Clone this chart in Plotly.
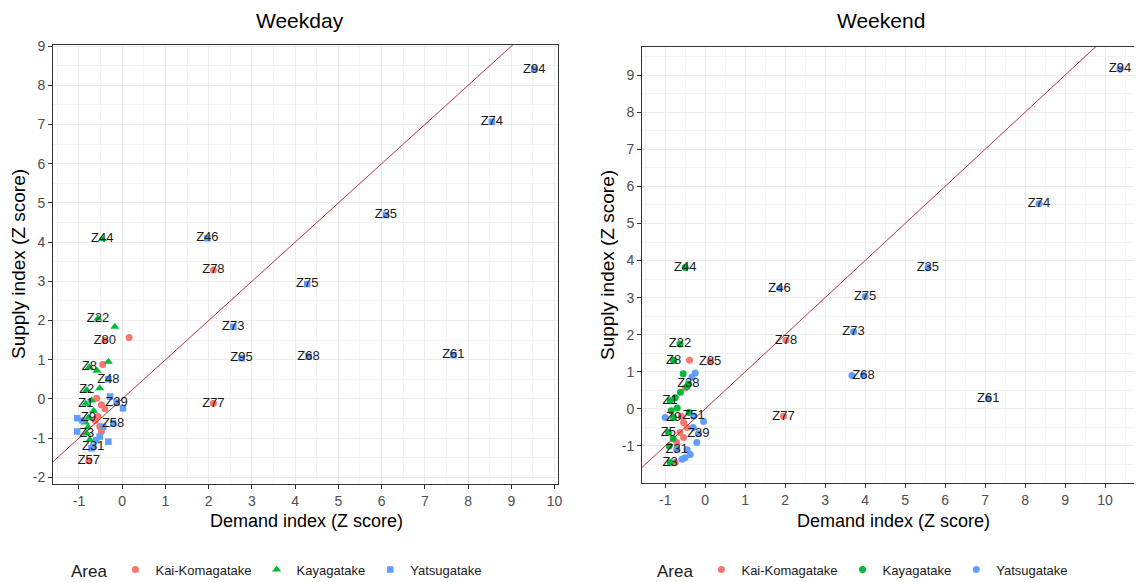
import plotly.graph_objects as go

FONT = "Liberation Sans, Arial, sans-serif"
PAGE_W, PAGE_H = 1142, 582
BODY_MARGIN = 8  # default browser body margin around the plot div
W, H = PAGE_W - BODY_MARGIN, PAGE_H - BODY_MARGIN

# ---------------- data ----------------
areas = ["Kai-Komagatake", "Kayagatake", "Yatsugatake"]
area_colors = ["#F8766D", "#00BA38", "#619CFF"]
weekday_symbols = ["circle", "triangle-up", "square"]
weekend_symbols = ["circle", "circle", "circle"]

# Weekday
wd_kai_x = [2.11, 2.11, -0.40, -0.77, 0.16, -0.45, -0.59, -0.48, -0.56, -0.48, -0.62, -0.40, -0.52]
wd_kai_y = [3.29, -0.11, 1.49, -1.58, 1.57, 0.88, 0.02, -0.15, -0.45, -0.83, -0.55, -0.25, -0.70]
wd_kai_lab = ["Z78", "Z77", "Z80", "Z57", "", "", "", "", "", "", "", "", ""]

wd_kaya_x = [-0.46, -0.56, -0.76, -0.82, -0.84, -0.78, -0.82, -0.17, -0.32, -0.58, -0.52, -0.71, -0.79, -0.75, -0.66, -0.85]
wd_kaya_y = [4.08, 2.05, 0.81, 0.23, -0.12, -0.48, -0.88, 1.84, 0.95, 0.72, 0.27, -0.04, -0.72, -1.04, -0.30, -0.60]
wd_kaya_lab = ["Z44", "Z22", "Z8", "Z2", "Z1", "Z9", "Z3", "", "", "", "", "", "", "", "", ""]

wd_yatsu_x = [9.53, 8.55, 6.10, 1.97, 4.28, 2.57, 2.76, 4.31, 7.66, -0.32, -0.13, -0.21, -0.67,
              -0.28, 0.02, -1.04, -1.04, -0.52, -0.32, -0.44, -0.71, -0.92, -0.60]
wd_yatsu_y = [8.41, 7.07, 4.69, 4.10, 2.93, 1.84, 1.04, 1.08, 1.12, 0.50, -0.09, -0.62, -1.22,
              0.06, -0.24, -0.49, -0.83, -0.96, -1.09, -0.71, -1.26, -0.55, -1.05]
wd_yatsu_lab = ["Z94", "Z74", "Z35", "Z46", "Z75", "Z73", "Z95", "Z68", "Z61", "Z48", "Z39", "Z58", "Z31",
                "", "", "", "", "", "", "", "", "", ""]

# Weekend
we_kai_x = [2.02, 1.96, 0.125, -0.39, -0.50, -0.54, -0.63, -0.54, -0.71, -0.60, -0.75, -0.45]
we_kai_y = [1.85, -0.20, 1.28, 1.31, 0.56, -0.37, -0.64, -0.77, -0.91, -0.20, -1.45, -0.50]
we_kai_lab = ["Z78", "Z77", "Z85", "", "", "", "", "", "", "", "", ""]

we_kaya_x = [-0.50, -0.63, -0.79, -0.42, -0.875, -0.79, -0.92, -0.875,
             -0.55, -0.45, -0.62, -0.75, -0.85, -0.80, -0.90, -0.70, -0.40]
we_kaya_y = [3.81, 1.75, 1.31, 0.67, 0.22, -0.23, -0.64, -1.45,
             0.95, 0.60, 0.45, 0.30, -0.05, -0.80, -1.00, 0.02, -0.10]
we_kaya_lab = ["Z44", "Z22", "Z8", "Z38", "Z1", "Z9", "Z5", "Z3",
               "", "", "", "", "", "", "", "", ""]

we_yatsu_x = [10.375, 8.35, 5.57, 1.86, 4.00, 3.71, 3.96, 7.08, -0.29, -0.17, -0.71,
              3.67, -0.33, -0.25, -0.04, -1.00, -0.21, -0.375, -0.50, -0.58, -0.45, -0.30]
we_yatsu_y = [9.16, 5.53, 3.81, 3.25, 3.03, 2.08, 0.90, 0.27, -0.19, -0.67, -1.09,
              0.90, 0.86, 0.97, -0.34, -0.23, -0.91, -1.23, -1.32, -1.36, -1.10, -0.50]
we_yatsu_lab = ["Z94", "Z74", "Z35", "Z46", "Z75", "Z73", "Z68", "Z61", "Z51", "Z39", "Z31",
                "", "", "", "", "", "", "", "", "", "", ""]

# reference line y = slope * x + intercept
ref_slope = 1.0
ref_intercept = 0.0

x_ticks = [-1, 0, 1, 2, 3, 4, 5, 6, 7, 8, 9, 10]
wd_y_ticks = [-2, -1, 0, 1, 2, 3, 4, 5, 6, 7, 8, 9]
we_y_ticks = [-1, 0, 1, 2, 3, 4, 5, 6, 7, 8, 9]

# ---------------- layout geometry ----------------
wd_xrange = [-1.60, 10.08]
wd_yrange = [-2.17, 9.03]
we_xrange = [-1.58, 10.925]
we_yrange = [-2.0, 9.76]


def px(v):
    """page x pixel -> paper fraction"""
    return (v - BODY_MARGIN) / W


def py(v):
    """page y pixel -> paper fraction"""
    return 1 - (v - BODY_MARGIN) / H


fig = go.Figure()

panels = [
    dict(xa="x", ya="y", legend="legend", symbols=weekday_symbols, xr=wd_xrange,
         groups=[(wd_kai_x, wd_kai_y, wd_kai_lab), (wd_kaya_x, wd_kaya_y, wd_kaya_lab),
                 (wd_yatsu_x, wd_yatsu_y, wd_yatsu_lab)]),
    dict(xa="x2", ya="y2", legend="legend2", symbols=weekend_symbols, xr=we_xrange,
         groups=[(we_kai_x, we_kai_y, we_kai_lab), (we_kaya_x, we_kaya_y, we_kaya_lab),
                 (we_yatsu_x, we_yatsu_y, we_yatsu_lab)]),
]

sym_size = {"circle": 7, "triangle-up": 8, "square": 6.5}

for p in panels:
    # points
    for name, color, sym, (xs, ys, labs) in zip(areas, area_colors, p["symbols"], p["groups"]):
        fig.add_trace(go.Scatter(
            x=xs, y=ys, mode="markers", name=name, xaxis=p["xa"], yaxis=p["ya"],
            legend=p["legend"],
            marker=dict(color=color, symbol=sym, size=sym_size[sym], line=dict(width=0)),
            hoverinfo="skip"))
    # reference line
    lx = list(p["xr"])
    ly = [ref_slope * v + ref_intercept for v in lx]
    fig.add_trace(go.Scatter(x=lx, y=ly, mode="lines", xaxis=p["xa"], yaxis=p["ya"],
                             line=dict(color="#B8343A", width=1), showlegend=False,
                             hoverinfo="skip"))
    # labels
    tx, ty, tt = [], [], []
    for xs, ys, labs in p["groups"]:
        for a, b, c in zip(xs, ys, labs):
            if c:
                tx.append(a)
                ty.append(b)
                tt.append(c)
    fig.add_trace(go.Scatter(x=tx, y=ty, text=tt, mode="text", xaxis=p["xa"], yaxis=p["ya"],
                             textposition="middle center",
                             textfont=dict(family=FONT, size=13, color="#1a1a1a"),
                             showlegend=False, hoverinfo="skip", cliponaxis=False))


def axis(rng, ticks, domain, anchor, mirror=True):
    return dict(
        range=rng, domain=domain, anchor=anchor, automargin=False,
        tickmode="array", tickvals=ticks, ticktext=[str(t) for t in ticks],
        ticks="outside", ticklen=4, tickwidth=1, tickcolor="#333333",
        tickfont=dict(family=FONT, size=14, color="#4D4D4D"),
        showgrid=True, gridcolor="#EBEBEB", gridwidth=1,
        minor=dict(tickmode="linear", tick0=0.5, dtick=1, showgrid=True,
                   gridcolor="#F3F3F3", gridwidth=0.7, ticks=""),
        showline=True, linecolor="#333333", linewidth=1, mirror=mirror,
        zeroline=False, fixedrange=True)


legend_common = dict(
    orientation="h", xanchor="left", yanchor="middle",
    bgcolor="rgba(0,0,0,0)",
    font=dict(family=FONT, size=13, color="#1a1a1a"),
    title=dict(text="Area", side="left", font=dict(family=FONT, size=17, color="#1a1a1a")),
    itemclick=False, itemdoubleclick=False,
)

fig.update_layout(
    template="none",
    width=W, height=H,
    margin=dict(l=0, r=0, t=0, b=0, pad=0, autoexpand=False),
    paper_bgcolor="white", plot_bgcolor="white",
    font=dict(family=FONT),
    xaxis=axis(wd_xrange, x_ticks, [px(53), px(558)], "y"),
    yaxis=axis(wd_yrange, wd_y_ticks, [py(484), py(45)], "x"),
    xaxis2=axis(we_xrange, x_ticks, [px(642), 1.0], "y2"),
    yaxis2=axis(we_yrange, we_y_ticks, [py(483), py(47)], "x2", mirror=False),
    legend=dict(legend_common, x=px(69), y=py(571)),
    legend2=dict(legend_common, x=px(655), y=py(571)),
    showlegend=True,
)

annotations = [
    dict(text="Weekday", x=px(300), y=py(20), size=21),
    dict(text="Weekend", x=px(881), y=py(20), size=21),
    dict(text="Demand index (Z score)", x=px(306), y=py(521), size=18),
    dict(text="Demand index (Z score)", x=px(893), y=py(521), size=18),
]
for a in annotations:
    fig.add_annotation(text=a["text"], x=a["x"], y=a["y"], xref="paper", yref="paper",
                       xanchor="center", yanchor="middle", showarrow=False,
                       font=dict(family=FONT, size=a["size"], color="#000000"))
for xpos, ycen in [(18, 264), (607, 265)]:
    fig.add_annotation(text="Supply index (Z score)", x=px(xpos), y=py(ycen), xref="paper",
                       yref="paper", xanchor="center", yanchor="middle", showarrow=False,
                       textangle=-90, font=dict(family=FONT, size=19, color="#000000"))

fig.write_html("out.html")
